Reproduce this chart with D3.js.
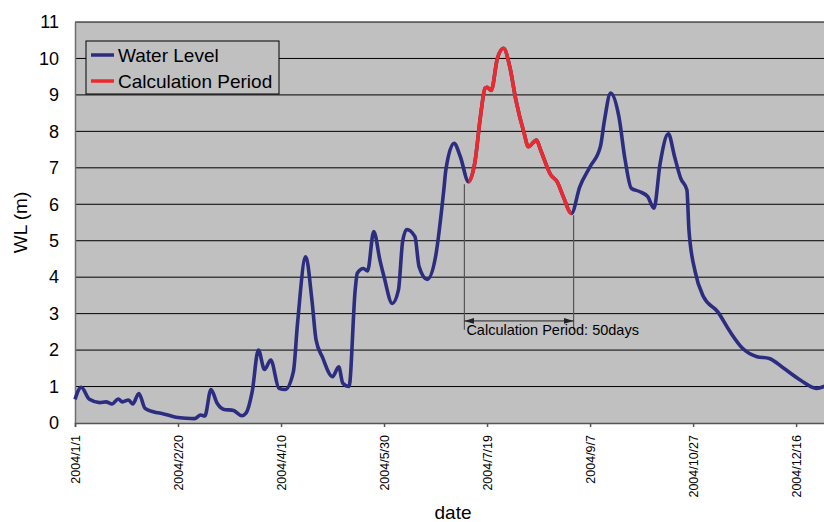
<!DOCTYPE html>
<html>
<head>
<meta charset="utf-8">
<script src="https://cdn.jsdelivr.net/npm/d3@7"></script>
<style>
  body { margin: 0; background: #fff; }
  text { font-family: "Liberation Sans", Arial, sans-serif; fill: #000; }
</style>
</head>
<body>
<script>
// data (day offset from 2004/1/1, water level in m)
var dayOffsets = [0, 3, 7, 12, 15, 18, 21, 23, 26, 28, 31, 34, 38, 43, 49, 54, 58, 61, 63, 66,
    69, 72, 77, 81, 83, 86, 89, 92, 95, 99, 102, 106, 108, 112, 115, 117, 120, 125, 128, 130,
    133, 136, 137, 140, 142, 145, 148, 150, 154, 157, 159, 161, 165, 167, 171, 175, 179, 180, 184, 187,
    191, 194, 197, 199, 200, 202, 205, 208, 211, 214, 218, 220, 224, 226, 231, 234, 237, 241,
    245, 250, 255, 257, 260, 264, 267, 270, 274, 278, 281, 284, 288, 291, 294, 297, 298, 301,
    305, 312, 318, 324, 331, 337, 344, 352, 360, 364];
var waterLevel = [0.65, 0.98, 0.65, 0.56, 0.58, 0.52, 0.66, 0.58, 0.63, 0.52, 0.81, 0.40, 0.31, 0.25, 0.16, 0.13, 0.12, 0.22, 0.19, 0.92,
    0.54, 0.38, 0.34, 0.20, 0.27, 0.86, 2.00, 1.47, 1.73, 0.95, 0.92, 1.41, 2.73, 4.56, 3.37, 2.28, 1.82, 1.27, 1.54, 1.09,
    1.00, 3.65, 4.11, 4.24, 4.17, 5.25, 4.47, 4.01, 3.28, 3.65, 4.97, 5.31, 5.11, 4.29, 3.94, 4.56, 6.39, 6.94, 7.67, 7.31,
    6.62, 7.12, 8.50, 9.18, 9.21, 9.12, 10.0, 10.28, 9.78, 8.86, 7.95, 7.58, 7.76, 7.49, 6.80, 6.62, 6.21, 5.75,
    6.48, 7.03, 7.58, 8.31, 9.05, 8.40, 7.22, 6.44, 6.35, 6.21, 5.89, 7.12, 7.93, 7.31, 6.71, 6.39, 5.29, 4.15,
    3.47, 3.05, 2.50, 2.05, 1.82, 1.77, 1.50, 1.18, 0.95, 1.01];
var calcPeriod = [191, 241];     // red part of the curve
var periodMarks = [189, 242];    // vertical guide lines of the annotation
var tickOffsets = [0, 50, 100, 150, 200, 250, 300, 350];
var yTicks = [0, 1, 2, 3, 4, 5, 6, 7, 8, 9, 10, 11];
var seriesNames = ["Water Level", "Calculation Period"];
var seriesColors = ["#2c2c80", "#ec2a2e"];

var width = 824;
var height = 522;
var margin = {top: 22, left: 75};
var innerWidth = 752;
var innerHeight = 401;

var base = new Date(2004, 0, 1);
var toDate = d => d3.timeDay.offset(base, d);
var data = dayOffsets.map((d, i) => ({date: toDate(d), wl: waterLevel[i]}));

var x = d3.scaleTime()
    .domain([base, toDate(365)])
    .range([0, innerWidth]);

var y = d3.scaleLinear()
    .domain([0, 11])
    .range([innerHeight, 0]);

var svg = d3.select("body")
    .append("svg")
        .attr("width", width)
        .attr("height", height);

var defs = svg.append("defs");
defs.append("clipPath")
    .attr("id", "calc-clip")
  .append("rect")
    .attr("x", x(toDate(calcPeriod[0])))
    .attr("y", -10)
    .attr("width", x(toDate(calcPeriod[1])) - x(toDate(calcPeriod[0])))
    .attr("height", innerHeight + 20);
defs.append("marker")
    .attr("id", "arrow")
    .attr("viewBox", "0 0 10 6")
    .attr("refX", 10)
    .attr("refY", 3)
    .attr("markerWidth", 10)
    .attr("markerHeight", 6)
    .attr("markerUnits", "userSpaceOnUse")
    .attr("orient", "auto-start-reverse")
  .append("path")
    .attr("d", "M0,0L10,3L0,6Z")
    .attr("fill", "#222");

var g = svg.append("g")
    .attr("transform", "translate(" + margin.left + ", " + margin.top + ")");

// plot background
g.append("rect")
    .attr("width", innerWidth)
    .attr("height", innerHeight)
    .attr("fill", "#c0c0c0");

// gridlines
g.selectAll(".grid")
    .data(yTicks.slice(1))
    .enter()
    .append("line")
        .attr("class", "grid")
        .attr("x1", 0)
        .attr("x2", innerWidth)
        .attr("y1", d => y(d))
        .attr("y2", d => y(d))
        .attr("stroke", "#000")
        .attr("stroke-width", 1);

// axes
var leftAxis = d3.axisLeft(y)
    .tickValues(yTicks)
    .tickSize(0)
    .tickPadding(16)
    .tickFormat(d3.format("d"));
g.append("g")
    .attr("class", "y-axis")
    .call(leftAxis)
    .call(a => a.select(".domain").attr("stroke", "#6e6e6e").attr("stroke-width", 1.5))
    .selectAll("text")
        .attr("font-size", "18px")
        .attr("font-family", "Liberation Sans, Arial, sans-serif");

var bottomAxis = d3.axisBottom(x)
    .tickValues(tickOffsets.map(toDate))
    .tickSize(4)
    .tickFormat(d3.timeFormat("%Y/%-m/%-d"));
g.append("g")
    .attr("class", "x-axis")
    .attr("transform", "translate(0, " + innerHeight + ")")
    .call(bottomAxis)
    .call(a => a.select(".domain").attr("stroke", "#555").attr("stroke-width", 1.5))
    .call(a => a.selectAll(".tick line").attr("stroke", "#555").attr("stroke-width", 1.5))
    .selectAll("text")
        .attr("font-size", "12.5px")
        .attr("font-family", "Liberation Sans, Arial, sans-serif")
        .attr("transform", "rotate(-90)")
        .attr("text-anchor", "end")
        .attr("x", -12)
        .attr("y", 0)
        .attr("dy", "0.35em");

g.append("text")
    .attr("class", "x-axis-label")
    .attr("x", 378)
    .attr("y", innerHeight + 96)
    .attr("text-anchor", "middle")
    .attr("font-size", "19px")
    .text("date");

g.append("text")
    .attr("class", "y-axis-label")
    .attr("transform", "rotate(-90)")
    .attr("x", -(innerHeight / 2))
    .attr("y", -48)
    .attr("text-anchor", "middle")
    .attr("font-size", "19px")
    .text("WL (m)");

// annotation
var markX = periodMarks.map(d => x(toDate(d)));
var markTop = [y(6.55), y(5.7)];
g.selectAll(".mark")
    .data(markX)
    .enter()
    .append("line")
        .attr("class", "mark")
        .attr("x1", d => d)
        .attr("x2", d => d)
        .attr("y1", (d, i) => markTop[i])
        .attr("y2", y(2.56))
        .attr("stroke", "#555")
        .attr("stroke-width", 1.2);
g.append("line")
    .attr("x1", markX[0])
    .attr("x2", markX[1])
    .attr("y1", y(2.8))
    .attr("y2", y(2.8))
    .attr("stroke", "#222")
    .attr("stroke-width", 1)
    .attr("marker-start", "url(#arrow)")
    .attr("marker-end", "url(#arrow)");
g.append("text")
    .attr("x", markX[0] + 2)
    .attr("y", y(2.8) + 14)
    .attr("font-size", "14.5px")
    .text("Calculation Period: 50days");

// lines
var line = d3.line()
    .x(d => x(d.date))
    .y(d => y(d.wl))
    .curve(d3.curveMonotoneX);

g.append("path")
    .datum(data)
    .attr("fill", "none")
    .attr("stroke", seriesColors[0])
    .attr("stroke-width", 3.6)
    .attr("stroke-linejoin", "round")
    .attr("d", line);

g.append("path")
    .datum(data)
    .attr("fill", "none")
    .attr("stroke", seriesColors[1])
    .attr("stroke-width", 3.6)
    .attr("stroke-linejoin", "round")
    .attr("clip-path", "url(#calc-clip)")
    .attr("d", line);

// legend
var legend = g.append("g")
    .attr("transform", "translate(11, 19)");
legend.append("rect")
    .attr("width", 193)
    .attr("height", 53)
    .attr("fill", "#c0c0c0")
    .attr("stroke", "#000")
    .attr("stroke-width", 1);
var items = legend.selectAll(".item")
    .data(seriesNames)
    .enter()
    .append("g")
        .attr("class", "item")
        .attr("transform", (d, i) => "translate(0, " + (14 + i * 26) + ")");
items.append("line")
    .attr("x1", 5)
    .attr("x2", 28)
    .attr("stroke", (d, i) => seriesColors[i])
    .attr("stroke-width", 3.5);
items.append("text")
    .attr("x", 32)
    .attr("dy", "0.35em")
    .attr("font-size", "19px")
    .text(d => d);
</script>
</body>
</html>
